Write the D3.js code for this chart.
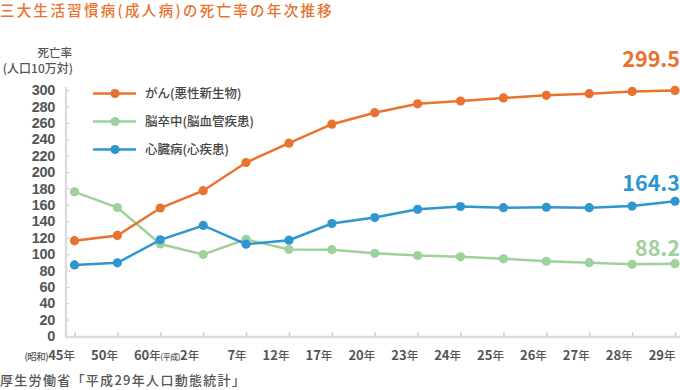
<!DOCTYPE html>
<html><head><meta charset="utf-8">
<script src="https://cdn.jsdelivr.net/npm/d3@7"></script>
<style>
html,body{margin:0;padding:0;background:#fff;}
svg{display:block;}
</style></head>
<body>
<script>
const eras = ["(昭和)","","","(平成)","","","","","","","","","","",""];
const categories = ["45年","50年","60年","2年","7年","12年","17年","20年","23年","24年","25年","26年","27年","28年","29年"];
const cancer = [116.3,122.6,156.1,177.2,211.6,235.2,258.3,272.3,283.2,286.6,290.3,293.5,295.5,298.3,299.5];
const stroke = [175.8,156.7,112.2,99.4,117.9,105.5,105.3,100.9,98.2,96.5,94.1,91.1,89.4,87.4,88.2];
const heart = [86.7,89.2,117.3,134.8,112.0,116.8,137.2,144.4,154.5,157.9,156.5,157.0,156.5,158.4,164.3];
const yTicks = d3.range(0, 301, 20);
const seriesNames = ["がん(悪性新生物)","脳卒中(脳血管疾患)","心臓病(心疾患)"];

const W = 680, H = 390;
const numFont = "'Noto Sans CJK JP',sans-serif";
const tickFont = "'Liberation Sans',Arial,sans-serif";
const jpFont = "'Noto Sans CJK JP',sans-serif";
const colors = {cancer:"#e9722f", stroke:"#9ed29a", heart:"#2f96cf"};

const svg = d3.select("body").append("svg").attr("width", W).attr("height", H);

const x = d3.scalePoint().domain(categories).range([74.5, 675]);
const y = d3.scaleLinear().domain([0, 300]).range([336, 90]);

// title
svg.append("text").attr("x", 0).attr("y", 16)
  .attr("font-family", jpFont).attr("font-size", 14.5).attr("font-weight", 500)
  .attr("letter-spacing", 2.3).attr("fill", "#e9722f")
  .text("三大生活習慣病(成人病)の死亡率の年次推移");

// y label
svg.append("text").attr("x", 72).attr("y", 57).attr("text-anchor", "end")
  .attr("font-family", jpFont).attr("font-size", 11.5).attr("font-weight", 500).attr("fill", "#555")
  .text("死亡率");
svg.append("text").attr("x", 73).attr("y", 73).attr("text-anchor", "end")
  .attr("font-family", jpFont).attr("font-size", 12).attr("font-weight", 500).attr("fill", "#555")
  .text("(人口10万対)");

// y axis
const yAxis = d3.axisRight(y).tickValues(yTicks).tickSize(4).tickFormat("");
const yg = svg.append("g").attr("transform", "translate(66,0)").call(yAxis);
yg.select(".domain").remove();
yg.selectAll(".tick line").attr("stroke", "#d0d0d0").attr("stroke-width", 1);
svg.append("line").attr("x1", 66).attr("x2", 66).attr("y1", 87).attr("y2", 337.5)
  .attr("stroke", "#dcdcdc").attr("stroke-width", 2.5);

svg.append("g").selectAll("text").data(yTicks).join("text")
  .attr("x", 55).attr("y", d => y(d)).attr("dy", "0.36em").attr("text-anchor", "end")
  .attr("font-family", tickFont).attr("font-size", 14.5).attr("font-weight", 700).attr("fill", "#555")
  .attr("letter-spacing", -0.3)
  .text(d => d);

// x axis
svg.append("line").attr("x1", 65).attr("x2", 680).attr("y1", 337).attr("y2", 337)
  .attr("stroke", "#dcdcdc").attr("stroke-width", 2.5);
const xAxis = d3.axisTop(x).tickSize(4).tickFormat("");
const xg = svg.append("g").attr("transform", "translate(0,336)").call(xAxis);
xg.select(".domain").remove();
xg.selectAll(".tick line").attr("stroke", "#d0d0d0").attr("stroke-width", 1.5);

const xl = svg.append("g").selectAll("text").data(categories).join("text")
  .attr("x", (d, i) => x(d) + (eras[i] && i > 0 ? -4 : 0.5)).attr("y", 360).attr("text-anchor", "end")
  .attr("font-family", numFont).attr("font-size", 13).attr("font-weight", 700).attr("fill", "#555");
xl.each(function(d, i){
  const t = d3.select(this);
  if (eras[i]) t.append("tspan").attr("font-size", i > 0 ? 8 : 9.5).attr("font-family", jpFont)
    .attr("font-weight", 500).attr("letter-spacing", -0.5).text(eras[i]);
  const m = d.match(/^(\d+)(年)$/);
  t.append("tspan").text(m[1]);
  t.append("tspan").attr("font-family", jpFont).attr("font-size", 11.5).attr("font-weight", 500).text(m[2]);
});

// source
svg.append("text").attr("x", 0).attr("y", 385)
  .attr("font-family", jpFont).attr("font-size", 13).attr("font-weight", 500)
  .attr("letter-spacing", 1.3).attr("fill", "#555")
  .text("厚生労働省「平成29年人口動態統計」");

// series
const series = [
  {key:"stroke", values: stroke, color: colors.stroke},
  {key:"cancer", values: cancer, color: colors.cancer},
  {key:"heart", values: heart, color: colors.heart}
];
const line = d3.line().x((d,i) => x(categories[i])).y(d => y(d));
series.forEach(s => {
  const g = svg.append("g");
  g.append("path").datum(s.values).attr("d", line)
    .attr("fill", "none").attr("stroke", s.color).attr("stroke-width", 2.5);
  g.selectAll("circle").data(s.values).join("circle")
    .attr("cx", (d,i) => x(categories[i])).attr("cy", d => y(d)).attr("r", 4.6)
    .attr("fill", s.color);
});

// legend
const legend = [
  {name: seriesNames[0], color: colors.cancer},
  {name: seriesNames[1], color: colors.stroke},
  {name: seriesNames[2], color: colors.heart}
];
const lg = svg.append("g").selectAll("g").data(legend).join("g")
  .attr("transform", (d,i) => `translate(0,${93.5 + i*28})`);
lg.append("line").attr("x1", 93).attr("x2", 136).attr("y1", 0).attr("y2", 0)
  .attr("stroke", d => d.color).attr("stroke-width", 2.5);
lg.append("circle").attr("cx", 115).attr("cy", 0).attr("r", 4.6).attr("fill", d => d.color);
lg.append("text").attr("x", 145).attr("y", 0).attr("dy", "0.36em")
  .attr("font-family", jpFont).attr("font-size", 12.5).attr("font-weight", 500).attr("fill", "#444")
  .text(d => d.name);

// end labels
const last = categories.length - 1;
const endLabels = [
  {v: cancer[last], color: colors.cancer, dy: -23},
  {v: heart[last], color: colors.heart, dy: -10},
  {v: stroke[last], color: colors.stroke, dy: -8}
];
svg.append("g").selectAll("text").data(endLabels).join("text")
  .attr("x", 680).attr("y", d => y(d.v) + d.dy).attr("text-anchor", "end")
  .attr("font-family", numFont).attr("font-size", 21.5).attr("font-weight", 700)
  .attr("fill", d => d.color)
  .text(d => d.v.toFixed(1));
</script>
</body></html>
